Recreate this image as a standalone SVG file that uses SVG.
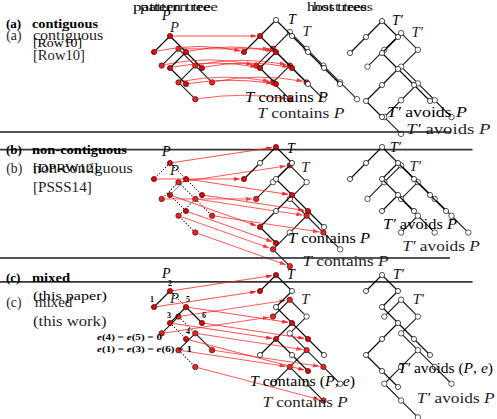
<svg xmlns="http://www.w3.org/2000/svg" width="497" height="419" viewBox="0 0 497 419">
<style>
.e{stroke:#000;stroke-width:1.1;fill:none;stroke-linejoin:round}
.d{stroke:#000;stroke-width:1;fill:none;stroke-dasharray:1.3 1.6}
.r{fill:#e00;stroke:#000;stroke-width:.6}
.o{fill:#fff;stroke:#000;stroke-width:.7}
.a{stroke:#f22;stroke-width:.8;fill:none;marker-end:url(#ah)}
.sep{stroke:#1a1a1a;stroke-width:1.6}
text{font-family:"Liberation Serif","DejaVu Serif",serif;fill:#000}
.hb{font-size:13px;font-weight:bold}
.h{font-size:13px}
.t{font-size:14px}
.i{font-style:italic}
.n{font-size:8px;font-weight:bold}
.sm{font-size:12px}
</style>
<defs>
<marker id="ah" markerUnits="userSpaceOnUse" markerWidth="6" markerHeight="4" refX="6" refY="2" orient="auto"><path d="M0,0L6,2L0,4z" fill="#f22"/></marker>
</defs>

<use href="#fig" transform="matrix(1.05 0 0 1.05 0 11)" opacity=".88"/>

<g id="fig">
<g id="separators">
<line class="sep" x1="0" y1="132" x2="450" y2="132"/>
<line class="sep" x1="0" y1="258" x2="450" y2="258"/>
</g>
<g id="tree-edges">
<path class="e" d="M170,36L154,52M170,36L186,52L170,68L186,84M186,52L202,68"/>
<path class="e" d="M244,52L260,36L276,20L292,36L308,52L324,68L340,84M260,36L276,52L292,68L308,84M276,52L260,68L276,84"/>
<path class="e" d="M350,53L366,37L382,21L398,37L382,53L398,69L414,85L430,101M398,69L382,85L366,101L382,117"/>
<path class="d" d="M170,163L154,179M170,163L186,179L170,195L186,211M186,179L202,195"/>
<path class="e" d="M244,179L260,163L276,147L292,163L276,179L292,195L308,211L324,227M292,195L276,211L260,227L276,243"/>
<path class="e" d="M350,179L366,163L382,147L398,163L414,179L430,195L446,211M398,163L382,179L398,195L414,211M398,195L382,211"/>
<path class="e" d="M170,291L154,307M186,307L170,323M186,307L202,323"/>
<path class="d" d="M170,291L186,307M170,323L186,339"/>
<path class="e" d="M260,291L276,275L292,291L276,307L292,323L308,339L324,355M292,323L276,339L260,355M276,339L292,355L308,371"/>
<path class="e" d="M366,291L382,275L398,291L382,307L398,323L414,339L430,355M398,323L382,339L366,355L382,371L398,387"/>
</g>
<g id="connectors">
<path class="a" d="M173,36L256.5,36"/>
<path class="a" d="M157,51Q199,42 240.5,51"/>
<path class="a" d="M189,51Q231,43 272.5,51"/>
<path class="a" d="M173,67Q215,59 256.5,67"/>
<path class="a" d="M205,67Q247,59 288.5,67"/>
<path class="a" d="M189,83.5Q231,77 272.5,83.5"/>
<path class="a" d="M173,162.6L272.2,147.6"/>
<path class="a" d="M157,179L240.2,179"/>
<path class="a" d="M189,179.4L288.2,194.4"/>
<path class="a" d="M172.8,196L256.4,225.7"/>
<path class="a" d="M205,195.4L304.2,210.4"/>
<path class="a" d="M188.8,212L272.4,241.7"/>
<path class="a" d="M173,290.6L272.2,275.6"/>
<path class="a" d="M157,306.6L256.2,291.6"/>
<path class="a" d="M189,307.4L288.2,322.4"/>
<path class="a" d="M173,323.4L272.2,338.4"/>
<path class="a" d="M205,323.4L304.2,338.4"/>
<path class="a" d="M188.9,339.8L304.3,370"/>
</g>
<g id="a-pattern">
<g id="aP2"><circle class="r" cx="170" cy="36" r="2.6"/></g>
<g id="aP1"><circle class="r" cx="154" cy="52" r="2.6"/></g>
<g id="aP5"><circle class="r" cx="186" cy="52" r="2.6"/></g>
<g id="aP3"><circle class="r" cx="170" cy="68" r="2.6"/></g>
<g id="aP6"><circle class="r" cx="202" cy="68" r="2.6"/></g>
<g id="aP4"><circle class="r" cx="186" cy="84" r="2.6"/></g>
</g>
<g id="a-T">
<g id="aT1"><circle class="o" cx="276" cy="20" r="2.6"/></g>
<g id="aT2"><circle class="r" cx="260" cy="36" r="2.6"/></g>
<g id="aT3"><circle class="o" cx="292" cy="36" r="2.6"/></g>
<g id="aT4"><circle class="r" cx="244" cy="52" r="2.6"/></g>
<g id="aT5"><circle class="r" cx="276" cy="52" r="2.6"/></g>
<g id="aT6"><circle class="o" cx="308" cy="52" r="2.6"/></g>
<g id="aT7"><circle class="r" cx="260" cy="68" r="2.6"/></g>
<g id="aT8"><circle class="r" cx="292" cy="68" r="2.6"/></g>
<g id="aT9"><circle class="o" cx="324" cy="68" r="2.6"/></g>
<g id="aT10"><circle class="r" cx="276" cy="84" r="2.6"/></g>
<g id="aT11"><circle class="o" cx="308" cy="84" r="2.6"/></g>
<g id="aT12"><circle class="o" cx="340" cy="84" r="2.6"/></g>
</g>
<g id="a-Tp">
<g id="aU1"><circle class="o" cx="382" cy="21" r="2.6"/></g>
<g id="aU2"><circle class="o" cx="366" cy="37" r="2.6"/></g>
<g id="aU3"><circle class="o" cx="350" cy="53" r="2.6"/></g>
<g id="aU4"><circle class="o" cx="398" cy="37" r="2.6"/></g>
<g id="aU5"><circle class="o" cx="382" cy="53" r="2.6"/></g>
<g id="aU6"><circle class="o" cx="398" cy="69" r="2.6"/></g>
<g id="aU7"><circle class="o" cx="382" cy="85" r="2.6"/></g>
<g id="aU8"><circle class="o" cx="414" cy="85" r="2.6"/></g>
<g id="aU9"><circle class="o" cx="430" cy="101" r="2.6"/></g>
<g id="aU10"><circle class="o" cx="366" cy="101" r="2.6"/></g>
<g id="aU11"><circle class="o" cx="382" cy="117" r="2.6"/></g>
</g>
<g id="b-pattern">
<g id="bP2"><circle class="r" cx="170" cy="163" r="2.6"/></g>
<g id="bP1"><circle class="r" cx="154" cy="179" r="2.6"/></g>
<g id="bP5"><circle class="r" cx="186" cy="179" r="2.6"/></g>
<g id="bP3"><circle class="r" cx="170" cy="195" r="2.6"/></g>
<g id="bP6"><circle class="r" cx="202" cy="195" r="2.6"/></g>
<g id="bP4"><circle class="r" cx="186" cy="211" r="2.6"/></g>
</g>
<g id="b-T">
<g id="bT1"><circle class="r" cx="276" cy="147" r="2.6"/></g>
<g id="bT2"><circle class="o" cx="260" cy="163" r="2.6"/></g>
<g id="bT3"><circle class="r" cx="244" cy="179" r="2.6"/></g>
<g id="bT4"><circle class="o" cx="292" cy="163" r="2.6"/></g>
<g id="bT5"><circle class="o" cx="276" cy="179" r="2.6"/></g>
<g id="bT6"><circle class="r" cx="292" cy="195" r="2.6"/></g>
<g id="bT7"><circle class="o" cx="276" cy="211" r="2.6"/></g>
<g id="bT8"><circle class="r" cx="308" cy="211" r="2.6"/></g>
<g id="bT9"><circle class="r" cx="260" cy="227" r="2.6"/></g>
<g id="bT10"><circle class="r" cx="276" cy="243" r="2.6"/></g>
<g id="bT11"><circle class="o" cx="324" cy="227" r="2.6"/></g>
</g>
<g id="b-Tp">
<g id="bU1"><circle class="o" cx="382" cy="147" r="2.6"/></g>
<g id="bU2"><circle class="o" cx="366" cy="163" r="2.6"/></g>
<g id="bU3"><circle class="o" cx="350" cy="179" r="2.6"/></g>
<g id="bU4"><circle class="o" cx="398" cy="163" r="2.6"/></g>
<g id="bU5"><circle class="o" cx="382" cy="179" r="2.6"/></g>
<g id="bU6"><circle class="o" cx="414" cy="179" r="2.6"/></g>
<g id="bU7"><circle class="o" cx="430" cy="195" r="2.6"/></g>
<g id="bU8"><circle class="o" cx="446" cy="211" r="2.6"/></g>
<g id="bU9"><circle class="o" cx="398" cy="195" r="2.6"/></g>
<g id="bU10"><circle class="o" cx="382" cy="211" r="2.6"/></g>
<g id="bU11"><circle class="o" cx="414" cy="211" r="2.6"/></g>
</g>
<g id="c-pattern">
<g id="cP2"><circle class="r" cx="170" cy="291" r="2.6"/></g>
<g id="cP1"><circle class="r" cx="154" cy="307" r="2.6"/></g>
<g id="cP5"><circle class="r" cx="186" cy="307" r="2.6"/></g>
<g id="cP3"><circle class="r" cx="170" cy="323" r="2.6"/></g>
<g id="cP6"><circle class="r" cx="202" cy="323" r="2.6"/></g>
<g id="cP4"><circle class="r" cx="186" cy="339" r="2.6"/></g>
</g>
<g id="c-T">
<g id="cT1"><circle class="r" cx="276" cy="275" r="2.6"/></g>
<g id="cT2"><circle class="r" cx="260" cy="291" r="2.6"/></g>
<g id="cT3"><circle class="o" cx="292" cy="291" r="2.6"/></g>
<g id="cT4"><circle class="o" cx="276" cy="307" r="2.6"/></g>
<g id="cT5"><circle class="r" cx="292" cy="323" r="2.6"/></g>
<g id="cT6"><circle class="r" cx="276" cy="339" r="2.6"/></g>
<g id="cT7"><circle class="r" cx="308" cy="339" r="2.6"/></g>
<g id="cT8"><circle class="o" cx="260" cy="355" r="2.6"/></g>
<g id="cT9"><circle class="o" cx="292" cy="355" r="2.6"/></g>
<g id="cT10"><circle class="o" cx="324" cy="355" r="2.6"/></g>
<g id="cT11"><circle class="r" cx="308" cy="371" r="2.6"/></g>
</g>
<g id="c-Tp">
<g id="cU1"><circle class="o" cx="382" cy="275" r="2.6"/></g>
<g id="cU2"><circle class="o" cx="366" cy="291" r="2.6"/></g>
<g id="cU3"><circle class="o" cx="398" cy="291" r="2.6"/></g>
<g id="cU4"><circle class="o" cx="382" cy="307" r="2.6"/></g>
<g id="cU5"><circle class="o" cx="398" cy="323" r="2.6"/></g>
<g id="cU6"><circle class="o" cx="382" cy="339" r="2.6"/></g>
<g id="cU7"><circle class="o" cx="414" cy="339" r="2.6"/></g>
<g id="cU8"><circle class="o" cx="430" cy="355" r="2.6"/></g>
<g id="cU9"><circle class="o" cx="366" cy="355" r="2.6"/></g>
<g id="cU10"><circle class="o" cx="382" cy="371" r="2.6"/></g>
<g id="cU11"><circle class="o" cx="398" cy="387" r="2.6"/></g>
</g>
<g id="shared-labels">
<text class="t i" x="162" y="20">P</text>
<text class="t i" x="288" y="24">T</text>
<text class="t i" x="392" y="25">T′</text>
<text class="t i" x="162" y="156">P</text>
<text class="t i" x="287" y="153">T</text>
<text class="t i" x="390" y="152">T′</text>
<text class="t i" x="162" y="278">P</text>
<text class="t i" x="287" y="279">T</text>
<text class="t i" x="393" y="279">T′</text>
<text class="t" x="245" y="102" textLength="83" lengthAdjust="spacingAndGlyphs"><tspan class="i">T</tspan> contains <tspan class="i">P</tspan></text>
<text class="t" x="387" y="117" textLength="80" lengthAdjust="spacingAndGlyphs"><tspan class="i">T′</tspan> avoids <tspan class="i">P</tspan></text>
<text class="t" x="288" y="243" textLength="82" lengthAdjust="spacingAndGlyphs"><tspan class="i">T</tspan> contains <tspan class="i">P</tspan></text>
<text class="t" x="383" y="229" textLength="74" lengthAdjust="spacingAndGlyphs"><tspan class="i">T′</tspan> avoids <tspan class="i">P</tspan></text>
</g>
</g>

<g id="secondary-text" transform="matrix(1.05 0 0 1.05 0 11)" opacity=".88">
<text class="h" x="6" y="28">(a)</text>
<text class="h" x="31.4" y="28" textLength="67" lengthAdjust="spacingAndGlyphs">contiguous</text>
<text class="h" x="31.4" y="47" textLength="49.5" lengthAdjust="spacingAndGlyphs">[Row10]</text>
<text class="h" x="6" y="154">(b)</text>
<text class="h" x="31.4" y="154" textLength="95" lengthAdjust="spacingAndGlyphs">non-contiguous</text>
<text class="h" x="31.4" y="172" textLength="56" lengthAdjust="spacingAndGlyphs">[PSSS14]</text>
<text class="h" x="6" y="282">(c)</text>
<text class="h" x="33" y="282" textLength="36" lengthAdjust="spacingAndGlyphs">mixed</text>
<text class="h" x="31.4" y="300" textLength="70" lengthAdjust="spacingAndGlyphs">(this work)</text>
<text class="t" x="250" y="377" textLength="81" lengthAdjust="spacingAndGlyphs"><tspan class="i">T</tspan> contains <tspan class="i">P</tspan></text>
<text class="t" x="397" y="373" textLength="74" lengthAdjust="spacingAndGlyphs"><tspan class="i">T′</tspan> avoids <tspan class="i">P</tspan></text>
</g>

<g id="titles">
<text class="sm" x="140" y="11" opacity=".88" textLength="78" lengthAdjust="spacingAndGlyphs">pattern tree</text>
<text class="sm" x="313" y="11" opacity=".88" textLength="60" lengthAdjust="spacingAndGlyphs">host trees</text>
<text class="sm" x="133" y="11" textLength="78" lengthAdjust="spacingAndGlyphs">pattern tree</text>
<text class="sm" x="307" y="11" textLength="60" lengthAdjust="spacingAndGlyphs">host trees</text>
</g>

<g id="primary-text">
<text class="hb" x="6" y="28">(a)</text>
<text class="hb" x="32" y="28" textLength="66" lengthAdjust="spacingAndGlyphs">contiguous</text>
<text class="h" x="33" y="47" textLength="49" lengthAdjust="spacingAndGlyphs">[Row10]</text>
<text class="hb" x="6" y="154">(b)</text>
<text class="hb" x="32" y="154" textLength="95" lengthAdjust="spacingAndGlyphs">non-contiguous</text>
<text class="h" x="33" y="172" textLength="65" lengthAdjust="spacingAndGlyphs">[DPRW12]</text>
<text class="hb" x="6" y="282">(c)</text>
<text class="hb" x="32" y="282" textLength="38" lengthAdjust="spacingAndGlyphs">mixed</text>
<text class="h" x="33" y="300" textLength="74" lengthAdjust="spacingAndGlyphs">(this paper)</text>
<text class="t" x="250" y="386" textLength="105" lengthAdjust="spacingAndGlyphs"><tspan class="i">T</tspan> contains (<tspan class="i">P</tspan>, <tspan class="i">e</tspan>)</text>
<text class="t" x="398" y="373" textLength="95" lengthAdjust="spacingAndGlyphs"><tspan class="i">T′</tspan> avoids (<tspan class="i">P</tspan>, <tspan class="i">e</tspan>)</text>
<text class="n" x="97" y="340" textLength="65" lengthAdjust="spacingAndGlyphs"><tspan class="i">e</tspan>(4) = <tspan class="i">e</tspan>(5) = 0</text>
<text class="n" x="97" y="352" textLength="95" lengthAdjust="spacingAndGlyphs"><tspan class="i">e</tspan>(1) = <tspan class="i">e</tspan>(3) = <tspan class="i">e</tspan>(6) = 1</text>
<g text-anchor="middle">
<text class="n" x="170" y="286">2</text>
<text class="n" x="152" y="302">1</text>
<text class="n" x="188" y="302">5</text>
<text class="n" x="169" y="318">3</text>
<text class="n" x="204" y="318">6</text>
<text class="n" x="188" y="334">4</text>
</g>
</g>
</svg>
